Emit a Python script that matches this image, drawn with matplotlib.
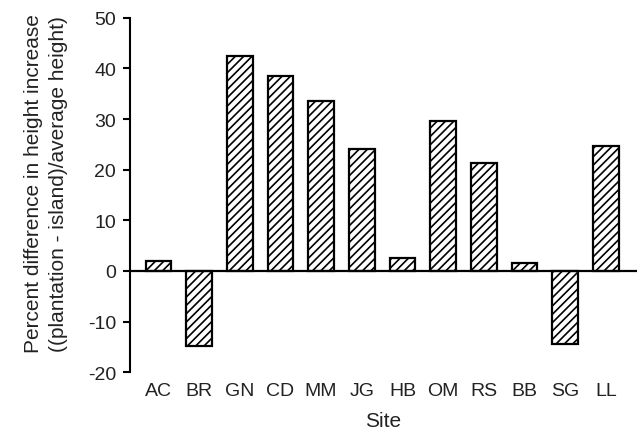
import matplotlib
matplotlib.use('Agg')
import matplotlib.pyplot as plt

sites = ['AC', 'BR', 'GN', 'CD', 'MM', 'JG', 'HB', 'OM', 'RS', 'BB', 'SG', 'LL']
pct_diff = [1.9, -14.9, 42.4, 38.5, 33.5, 24.0, 2.6, 29.6, 21.4, 1.5, -14.5, 24.7]
yticks = [-20, -10, 0, 10, 20, 30, 40, 50]

plt.rcParams['font.family'] = ['Liberation Sans', 'DejaVu Sans']
plt.rcParams['hatch.linewidth'] = 1.2
txt = '#222222'

fig = plt.figure(figsize=(6.4, 4.39), dpi=100)
ax = fig.add_axes([0.203, 0.150, 0.792, 0.807])

x = list(range(len(sites)))
ax.bar(x, pct_diff, width=0.63, color='white', edgecolor='black',
       linewidth=1.6, hatch='////', zorder=2)
ax.axhline(0, color='black', linewidth=1.6, zorder=3)

ax.set_xlim(-0.7, 11.76)
ax.set_ylim(-20, 50)
ax.set_yticks(yticks)
ax.set_yticklabels([str(v) for v in yticks], fontsize=14, color=txt)
ax.set_xticks(x)
ax.set_xticklabels(sites, fontsize=14, color=txt)
ax.tick_params(axis='x', length=0, pad=7)
ax.tick_params(axis='y', length=5, width=1.5, direction='out', pad=5)

for s in ['top', 'right', 'bottom']:
    ax.spines[s].set_visible(False)
ax.spines['left'].set_linewidth(1.5)

ax.set_xlabel('Site', fontsize=15, labelpad=9, color=txt)
ax.set_ylabel('Percent difference in height increase\n((plantation - island)/average height)',
              fontsize=15, labelpad=14, color=txt, linespacing=1.45)
ax.yaxis.label.set_y(0.535)

fig.savefig('out.png', dpi=100)
